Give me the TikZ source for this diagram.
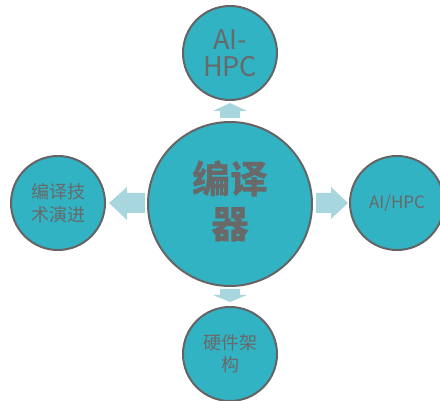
\documentclass[tikz,border=0pt]{standalone}
\usepackage{fontspec}
\setmainfont{Noto Sans CJK SC}
\newfontfamily\cjkbold[BoldFont={Noto Sans CJK SC Bold}]{Noto Sans CJK SC}
\begin{document}
\begin{tikzpicture}[x=1pt,y=-1pt,
  circ/.style={circle,draw=bordergray,line width=2pt,fill=tealfill,text=textgray,align=center,inner sep=0pt},
  blockarrow/.style={fill=arrowblue,draw=none}]
\definecolor{tealfill}{RGB}{49,179,196}
\definecolor{bordergray}{RGB}{100,100,100}
\definecolor{textgray}{RGB}{105,105,105}
\definecolor{arrowblue}{RGB}{168,214,223}
\useasboundingbox (0,0) rectangle (440,401);
% arrows
\fill[blockarrow] (220,118) -- (240,118) -- (240,111) -- (247,111) -- (230,103) -- (213,111) -- (220,111) -- cycle;
\fill[blockarrow] (220,289) -- (240,289) -- (240,295) -- (247,295) -- (230,302) -- (213,295) -- (220,295) -- cycle;
\fill[blockarrow] (145,193) -- (145,213) -- (127,213) -- (127,220) -- (109,203) -- (127,187) -- (127,193) -- cycle;
\fill[blockarrow] (316,193) -- (316,213) -- (331,213) -- (331,219) -- (348,203) -- (331,187) -- (331,193) -- cycle;
% circles
\node[circ,minimum size=164pt] (center) at (230,204) {};
\node[text=textgray,align=center,font=\bfseries\fontsize{38}{45}\selectfont] (centertext) at (230,201) {编译\\器};
\node[circ,minimum size=94pt,font=\fontsize{27}{27}\selectfont] (top) at (230,53) {AI-\\HPC};
\node[circ,minimum size=94pt,font=\fontsize{18}{23}\selectfont] (left) at (58,203) {编译技\\术演进};
\node[circ,minimum size=94pt,font=\fontsize{17}{20}\selectfont] (right) at (397,203) {AI/HPC};
\node[circ,minimum size=94pt,font=\fontsize{18}{22}\selectfont] (bottom) at (230,354) {硬件架\\构};
\end{tikzpicture}
\end{document}
